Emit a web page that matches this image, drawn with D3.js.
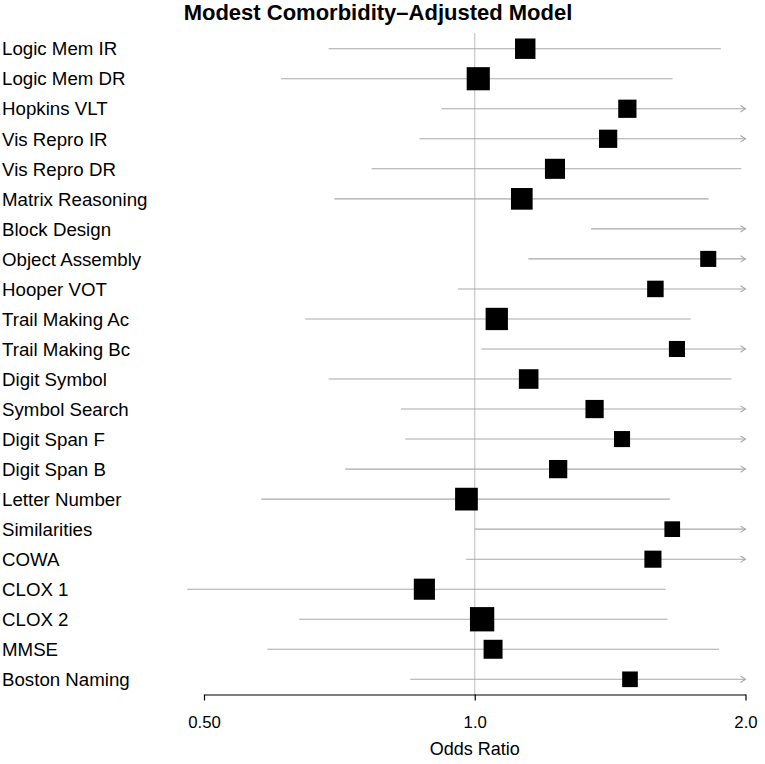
<!DOCTYPE html>
<html>
<head>
<meta charset="utf-8">
<script src="https://cdn.jsdelivr.net/npm/d3@7"></script>
<style>
  html, body { margin: 0; padding: 0; background: #fff; }
  svg { display: block; }
  text { font-family: "Liberation Sans", Arial, Helvetica, sans-serif; fill: #000; }
</style>
</head>
<body>
<svg id="chart" width="765" height="764"></svg>
<script>
// ---- data ----
const title = "Modest Comorbidity\u2013Adjusted Model";
const xLabel = "Odds Ratio";
const categories = [
  "Logic Mem IR", "Logic Mem DR", "Hopkins VLT", "Vis Repro IR", "Vis Repro DR",
  "Matrix Reasoning", "Block Design", "Object Assembly", "Hooper VOT", "Trail Making Ac",
  "Trail Making Bc", "Digit Symbol", "Symbol Search", "Digit Span F", "Digit Span B",
  "Letter Number", "Similarities", "COWA", "CLOX 1", "CLOX 2", "MMSE", "Boston Naming"
];
const oddsRatio = [
  1.138, 1.009, 1.478, 1.407, 1.228,
  1.128, 2.20, 1.818, 1.588, 1.058,
  1.678, 1.148, 1.359, 1.458, 1.238,
  0.979, 1.658, 1.578, 0.879, 1.019, 1.048, 1.488
];
const lowerCI = [
  0.688, 0.609, 0.918, 0.868, 0.768,
  0.698, 1.347, 1.147, 0.958, 0.648,
  1.017, 0.688, 0.828, 0.837, 0.718,
  0.579, 1.000, 0.978, 0.479, 0.638, 0.588, 0.848
];
const upperCI = [
  1.878, 1.659, 2.25, 2.20, 1.979,
  1.820, 3.30, 2.66, 2.43, 1.738,
  2.53, 1.929, 2.16, 2.35, 2.05,
  1.648, 2.55, 2.40, 1.630, 1.638, 1.869, 2.40
];
const tickValues = [0.5, 1.0, 2.0];
const tickLabels = ["0.50", "1.0", "2.0"];
const clipRange = [0.4, 2.0];

// ---- chart ----
const svg = d3.select("#chart");
const grey = "#a9a9a9";

const x = d3.scaleLog().domain([0.5, 2.0]).range([204, 745.5]);
const y = d3.scalePoint().domain(categories).range([48.7, 679.3]);

const rows = categories.map((c, i) => ({
  name: c, est: oddsRatio[i], lo: lowerCI[i], hi: upperCI[i],
  prec: 1 / (upperCI[i] - lowerCI[i])
}));
const box = d3.scaleLinear().domain([0, d3.max(rows, d => d.prec)]).range([0, 24.3]);

const axisY = 694.5;

// title
svg.append("text")
  .attr("x", 378).attr("y", 20)
  .attr("text-anchor", "middle")
  .style("font-weight", "bold").style("font-size", "22px")
  .text(title);

// labels
svg.append("g").selectAll("text").data(rows).join("text")
  .attr("x", 2).attr("y", d => y(d.name))
  .attr("dy", "0.36em")
  .style("font-size", "18.7px")
  .text(d => d.name);

// reference line at 1
svg.append("line")
  .attr("x1", x(1)).attr("x2", x(1))
  .attr("y1", 33).attr("y2", axisY)
  .attr("stroke", "#bdbdbd").attr("stroke-width", 1);

// CI lines
const g = svg.append("g");
rows.forEach(d => {
  const lo = Math.max(d.lo, clipRange[0]);
  const hi = Math.min(d.hi, clipRange[1]);
  const yy = y(d.name);
  g.append("line")
    .attr("x1", x(lo)).attr("x2", x(hi))
    .attr("y1", yy).attr("y2", yy)
    .attr("stroke", grey).attr("stroke-width", 1.1);
  if (d.hi > clipRange[1]) {
    const xe = x(clipRange[1]);
    g.append("path")
      .attr("d", `M${xe - 5},${yy - 3.2}L${xe},${yy}L${xe - 5},${yy + 3.2}`)
      .attr("fill", "none").attr("stroke", grey).attr("stroke-width", 1.1);
  }
});

// boxes (only when estimate inside clip range)
svg.append("g").selectAll("rect")
  .data(rows.filter(d => d.est >= clipRange[0] && d.est <= clipRange[1]))
  .join("rect")
  .attr("x", d => x(d.est) - box(d.prec) / 2)
  .attr("y", d => y(d.name) - box(d.prec) / 2)
  .attr("width", d => box(d.prec))
  .attr("height", d => box(d.prec))
  .attr("fill", "#000");

// axis
const axis = d3.axisBottom(x)
  .tickValues(tickValues)
  .tickFormat((d, i) => tickLabels[i])
  .tickSizeInner(6).tickSizeOuter(0).tickPadding(16);
const ag = svg.append("g").attr("transform", `translate(0,${axisY})`).call(axis);
ag.select(".domain").attr("stroke", "#000").attr("stroke-width", 1.2);
ag.selectAll(".tick line").attr("stroke", "#000").attr("stroke-width", 1.2);
ag.selectAll(".tick text")
  .style("font-family", "'Liberation Sans', Arial, Helvetica, sans-serif")
  .style("font-size", "16.8px").attr("fill", "#000");

// x label
svg.append("text")
  .attr("x", x(1)).attr("y", 755)
  .attr("text-anchor", "middle")
  .style("font-size", "18px")
  .text(xLabel);
</script>
</body>
</html>
